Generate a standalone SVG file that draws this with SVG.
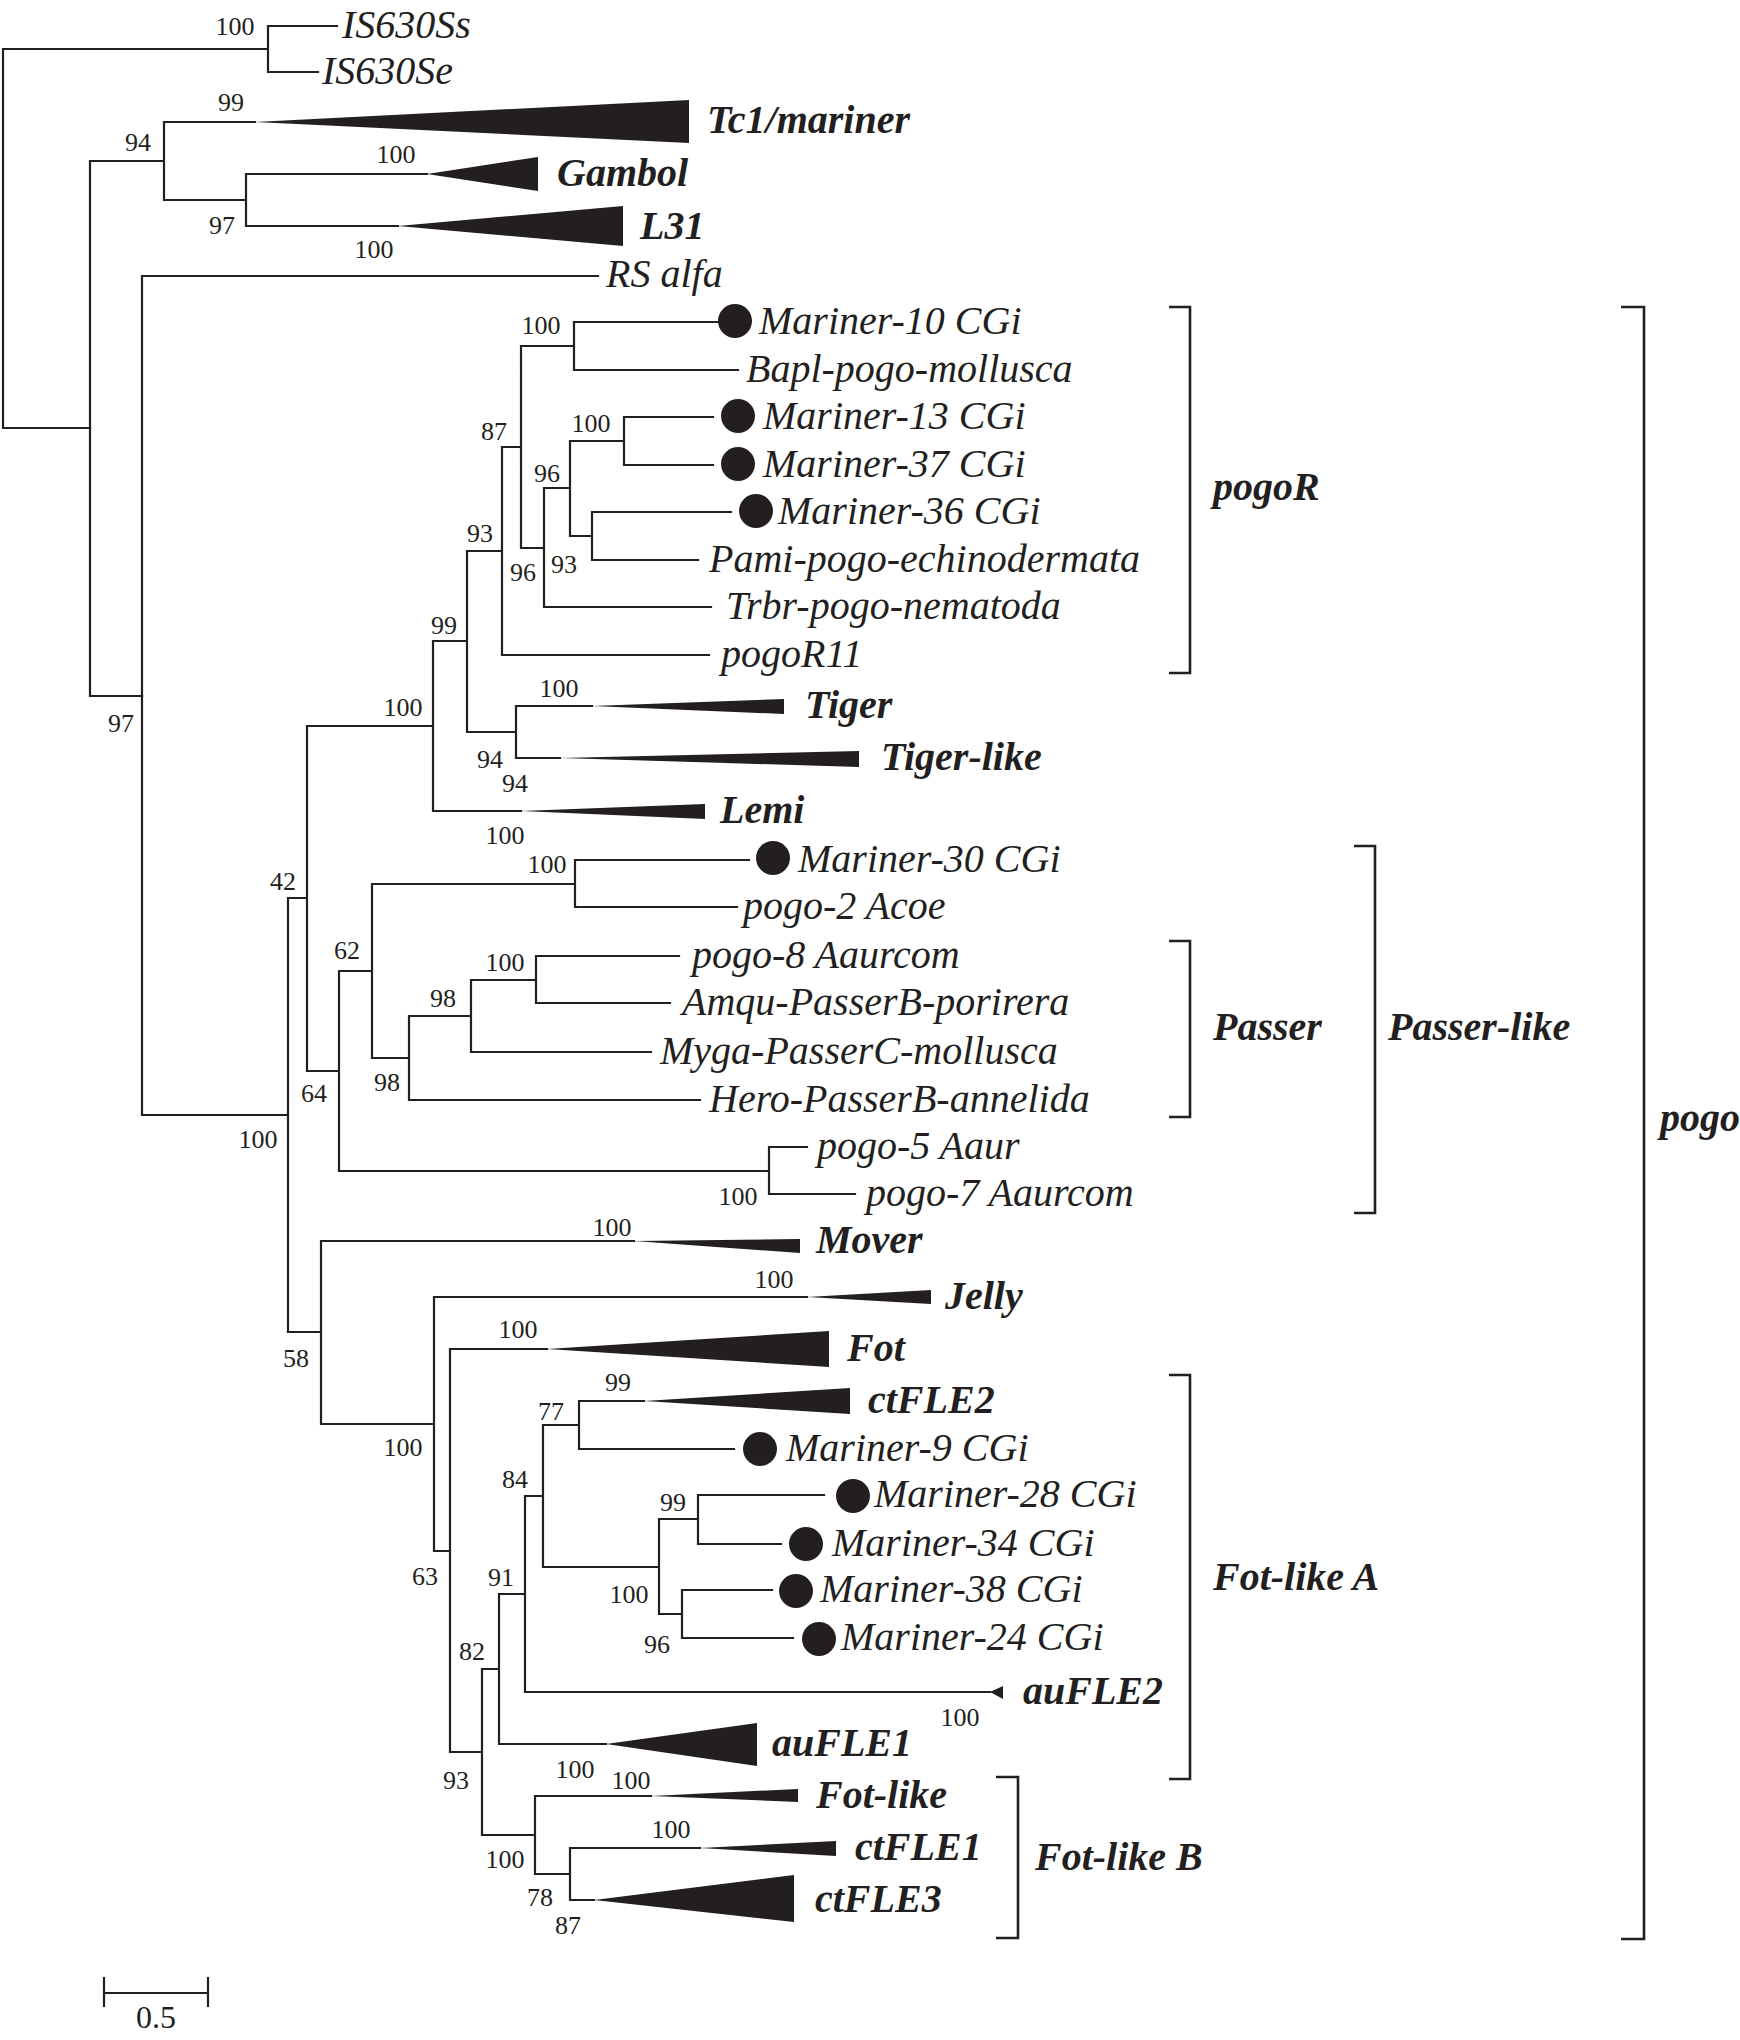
<svg xmlns="http://www.w3.org/2000/svg" width="1740" height="2040" viewBox="0 0 1740 2040">
<style>
.e{fill:none;stroke:#231f20;stroke-width:2.2;stroke-linecap:square}
.br{fill:none;stroke:#231f20;stroke-width:2.6}
.t{font-family:"Liberation Serif","Times New Roman",serif;font-size:40px;font-style:italic;fill:#231f20}
.b{font-family:"Liberation Serif","Times New Roman",serif;font-size:40px;font-style:italic;font-weight:bold;fill:#231f20}
.s{font-family:"Liberation Serif","Times New Roman",serif;font-size:26px;fill:#231f20;text-anchor:middle}
.sc{font-family:"Liberation Serif","Times New Roman",serif;font-size:32px;fill:#231f20;text-anchor:middle}
.tri{fill:#231f20}
.dot{fill:#231f20}
</style>
<rect width="1740" height="2040" fill="#fff"/>
<g id="connectors">
<path class="e" d="M3,49V428M3,49H268M268,26V72M268,26H337M268,72H318M3,428H90"/>
<path class="e" d="M90,161V696M90,161H164M164,122V200M164,122H255M164,200H246M246,174V226M246,174H427M246,226H398M90,696H142"/>
<path class="e" d="M142,276V1115M142,276H598M142,1115H288M288,898V1332M288,898H307M307,726V1071M307,726H433M433,641V811M433,641H467M467,551V732M467,551H502M502,447V655M502,447H521M521,346V548M521,346H574M574,322V370M574,322H718M574,370H738M521,548H544M544,488V607M544,488H570M570,441V536M570,441H624M624,417V465M624,417H713M624,465H713M570,536H592M592,512V560M592,512H731M592,560H698M544,607H711M502,655H709M467,732H516M516,706V758M516,706H592M516,758H560M433,811H521"/>
<path class="e" d="M307,1071H339M339,971V1171M339,971H372M372,884V1058M372,884H575M575,860V907M575,860H749M575,907H737M372,1058H409M409,1016V1100M409,1016H471M471,980V1052M471,980H536M536,956V1003M536,956H679M536,1003H670M471,1052H651M409,1100H700M339,1171H769M769,1147V1194M769,1147H807M769,1194H855"/>
<path class="e" d="M288,1332H321M321,1241V1424M321,1241H634M321,1424H434M434,1297V1551M434,1297H807M434,1551H450M450,1349V1752M450,1349H547M450,1752H482M482,1669V1835M482,1669H499M499,1594V1744M499,1594H525M525,1496V1692M525,1496H543M543,1425V1567M543,1425H579M579,1401V1449M579,1401H644M579,1449H734M543,1567H659M659,1519V1614M659,1519H698M698,1495V1544M698,1495H824M698,1544H781M659,1614H682M682,1590V1638M682,1590H772M682,1638H793M525,1692H990M499,1744H606M482,1835H535M535,1796V1874M535,1796H651M535,1874H570M570,1848V1900M570,1848H700M570,1900H594"/>
</g>
<g id="supports">
<text class="s" x="235" y="35">100</text>
<text class="s" x="231" y="111">99</text>
<text class="s" x="138" y="151">94</text>
<text class="s" x="396" y="163">100</text>
<text class="s" x="222" y="234">97</text>
<text class="s" x="374" y="258">100</text>
<text class="s" x="121" y="732">97</text>
<text class="s" x="541" y="334">100</text>
<text class="s" x="494" y="440">87</text>
<text class="s" x="591" y="432">100</text>
<text class="s" x="547" y="482">96</text>
<text class="s" x="480" y="542">93</text>
<text class="s" x="523" y="581">96</text>
<text class="s" x="564" y="573">93</text>
<text class="s" x="444" y="634">99</text>
<text class="s" x="559" y="697">100</text>
<text class="s" x="403" y="716">100</text>
<text class="s" x="490" y="768">94</text>
<text class="s" x="515" y="792">94</text>
<text class="s" x="505" y="844">100</text>
<text class="s" x="283" y="890">42</text>
<text class="s" x="547" y="873">100</text>
<text class="s" x="347" y="959">62</text>
<text class="s" x="505" y="971">100</text>
<text class="s" x="443" y="1007">98</text>
<text class="s" x="387" y="1091">98</text>
<text class="s" x="314" y="1102">64</text>
<text class="s" x="258" y="1148">100</text>
<text class="s" x="738" y="1205">100</text>
<text class="s" x="612" y="1236">100</text>
<text class="s" x="774" y="1288">100</text>
<text class="s" x="518" y="1338">100</text>
<text class="s" x="296" y="1367">58</text>
<text class="s" x="618" y="1391">99</text>
<text class="s" x="551" y="1420">77</text>
<text class="s" x="403" y="1456">100</text>
<text class="s" x="515" y="1488">84</text>
<text class="s" x="673" y="1511">99</text>
<text class="s" x="425" y="1585">63</text>
<text class="s" x="501" y="1586">91</text>
<text class="s" x="629" y="1603">100</text>
<text class="s" x="657" y="1653">96</text>
<text class="s" x="472" y="1660">82</text>
<text class="s" x="960" y="1726">100</text>
<text class="s" x="575" y="1778">100</text>
<text class="s" x="631" y="1789">100</text>
<text class="s" x="456" y="1789">93</text>
<text class="s" x="671" y="1838">100</text>
<text class="s" x="505" y="1868">100</text>
<text class="s" x="540" y="1906">78</text>
<text class="s" x="568" y="1934">87</text>
</g>
<g id="n-IS630Ss"><text class="t" x="342" y="38">IS630Ss</text></g>
<g id="n-IS630Se"><text class="t" x="322" y="84">IS630Se</text></g>
<g id="n-Tc1"><polygon class="tri" points="255,122 689,100 689,143"/><text class="b" x="707" y="133">Tc1/mariner</text></g>
<g id="n-Gambol"><polygon class="tri" points="427,174 538,157 538,191"/><text class="b" x="557" y="186">Gambol</text></g>
<g id="n-L31"><polygon class="tri" points="398,226 623,206 623,246"/><text class="b" x="640" y="239">L31</text></g>
<g id="n-RSalfa"><text class="t" x="606" y="287">RS alfa</text></g>
<g id="n-Mariner10"><circle class="dot" cx="735" cy="321" r="17"/><text class="t" x="759" y="334">Mariner-10 CGi</text></g>
<g id="n-Bapl"><text class="t" x="746" y="382">Bapl-pogo-mollusca</text></g>
<g id="n-Mariner13"><circle class="dot" cx="738" cy="416" r="17"/><text class="t" x="763" y="429">Mariner-13 CGi</text></g>
<g id="n-Mariner37"><circle class="dot" cx="738" cy="464" r="17"/><text class="t" x="763" y="477">Mariner-37 CGi</text></g>
<g id="n-Mariner36"><circle class="dot" cx="756" cy="511" r="17"/><text class="t" x="778" y="524">Mariner-36 CGi</text></g>
<g id="n-Pami"><text class="t" x="709" y="572">Pami-pogo-echinodermata</text></g>
<g id="n-Trbr"><text class="t" x="726" y="619">Trbr-pogo-nematoda</text></g>
<g id="n-pogoR11"><text class="t" x="721" y="667">pogoR11</text></g>
<g id="n-Tiger"><polygon class="tri" points="592,706 784,699 784,714"/><text class="b" x="805" y="718">Tiger</text></g>
<g id="n-Tigerlike"><polygon class="tri" points="560,758 859,751 859,767"/><text class="b" x="881" y="770">Tiger-like</text></g>
<g id="n-Lemi"><polygon class="tri" points="521,811 705,804 705,819"/><text class="b" x="720" y="823">Lemi</text></g>
<g id="n-Mariner30"><circle class="dot" cx="773" cy="858" r="17"/><text class="t" x="798" y="872">Mariner-30 CGi</text></g>
<g id="n-pogo2"><text class="t" x="743" y="919">pogo-2 Acoe</text></g>
<g id="n-pogo8"><text class="t" x="692" y="968">pogo-8 Aaurcom</text></g>
<g id="n-Amqu"><text class="t" x="682" y="1015">Amqu-PasserB-porirera</text></g>
<g id="n-Myga"><text class="t" x="660" y="1064">Myga-PasserC-mollusca</text></g>
<g id="n-Hero"><text class="t" x="709" y="1112">Hero-PasserB-annelida</text></g>
<g id="n-pogo5"><text class="t" x="817" y="1159">pogo-5 Aaur</text></g>
<g id="n-pogo7"><text class="t" x="866" y="1206">pogo-7 Aaurcom</text></g>
<g id="n-Mover"><polygon class="tri" points="634,1241 800,1239 800,1253"/><text class="b" x="816" y="1253">Mover</text></g>
<g id="n-Jelly"><polygon class="tri" points="807,1297 931,1290 931,1304"/><text class="b" x="945" y="1309">Jelly</text></g>
<g id="n-Fot"><polygon class="tri" points="547,1349 829,1331 829,1367"/><text class="b" x="847" y="1361">Fot</text></g>
<g id="n-ctFLE2"><polygon class="tri" points="644,1401 850,1388 850,1414"/><text class="b" x="868" y="1413">ctFLE2</text></g>
<g id="n-Mariner9"><circle class="dot" cx="760" cy="1449" r="17"/><text class="t" x="786" y="1461">Mariner-9 CGi</text></g>
<g id="n-Mariner28"><circle class="dot" cx="853" cy="1496" r="17"/><text class="t" x="874" y="1507">Mariner-28 CGi</text></g>
<g id="n-Mariner34"><circle class="dot" cx="806" cy="1544" r="17"/><text class="t" x="832" y="1556">Mariner-34 CGi</text></g>
<g id="n-Mariner38"><circle class="dot" cx="796" cy="1591" r="17"/><text class="t" x="820" y="1602">Mariner-38 CGi</text></g>
<g id="n-Mariner24"><circle class="dot" cx="819" cy="1639" r="17"/><text class="t" x="841" y="1650">Mariner-24 CGi</text></g>
<g id="n-auFLE2"><polygon class="tri" points="990,1692 1003,1686 1003,1699"/><text class="b" x="1023" y="1704">auFLE2</text></g>
<g id="n-auFLE1"><polygon class="tri" points="606,1744 757,1723 757,1766"/><text class="b" x="772" y="1756">auFLE1</text></g>
<g id="n-Fotlike"><polygon class="tri" points="651,1796 798,1789 798,1802"/><text class="b" x="816" y="1808">Fot-like</text></g>
<g id="n-ctFLE1"><polygon class="tri" points="700,1848 836,1841 836,1856"/><text class="b" x="855" y="1860">ctFLE1</text></g>
<g id="n-ctFLE3"><polygon class="tri" points="594,1900 794,1875 794,1922"/><text class="b" x="815" y="1912">ctFLE3</text></g>
<g id="brackets">
<g id="b-pogoR"><path class="br" d="M1169,307H1190V673H1169"/><text class="b" x="1213" y="500">pogoR</text></g>
<g id="b-Passer"><path class="br" d="M1169,941H1190V1117H1169"/><text class="b" x="1213" y="1040">Passer</text></g>
<g id="b-Passerlike"><path class="br" d="M1354,846H1375V1213H1354"/><text class="b" x="1388" y="1040">Passer-like</text></g>
<g id="b-FotlikeA"><path class="br" d="M1169,1375H1190V1779H1169"/><text class="b" x="1213" y="1590">Fot-like A</text></g>
<g id="b-FotlikeB"><path class="br" d="M996,1777H1018V1938H996"/><text class="b" x="1035" y="1870">Fot-like B</text></g>
<g id="b-pogo"><path class="br" d="M1621,307H1644V1939H1621"/><text class="b" x="1660" y="1131">pogo</text></g>
</g>
<g id="scale">
<path class="e" d="M104,1993H208M104,1978V2006M208,1978V2006"/>
<text class="sc" x="156" y="2028">0.5</text>
</g>
</svg>
